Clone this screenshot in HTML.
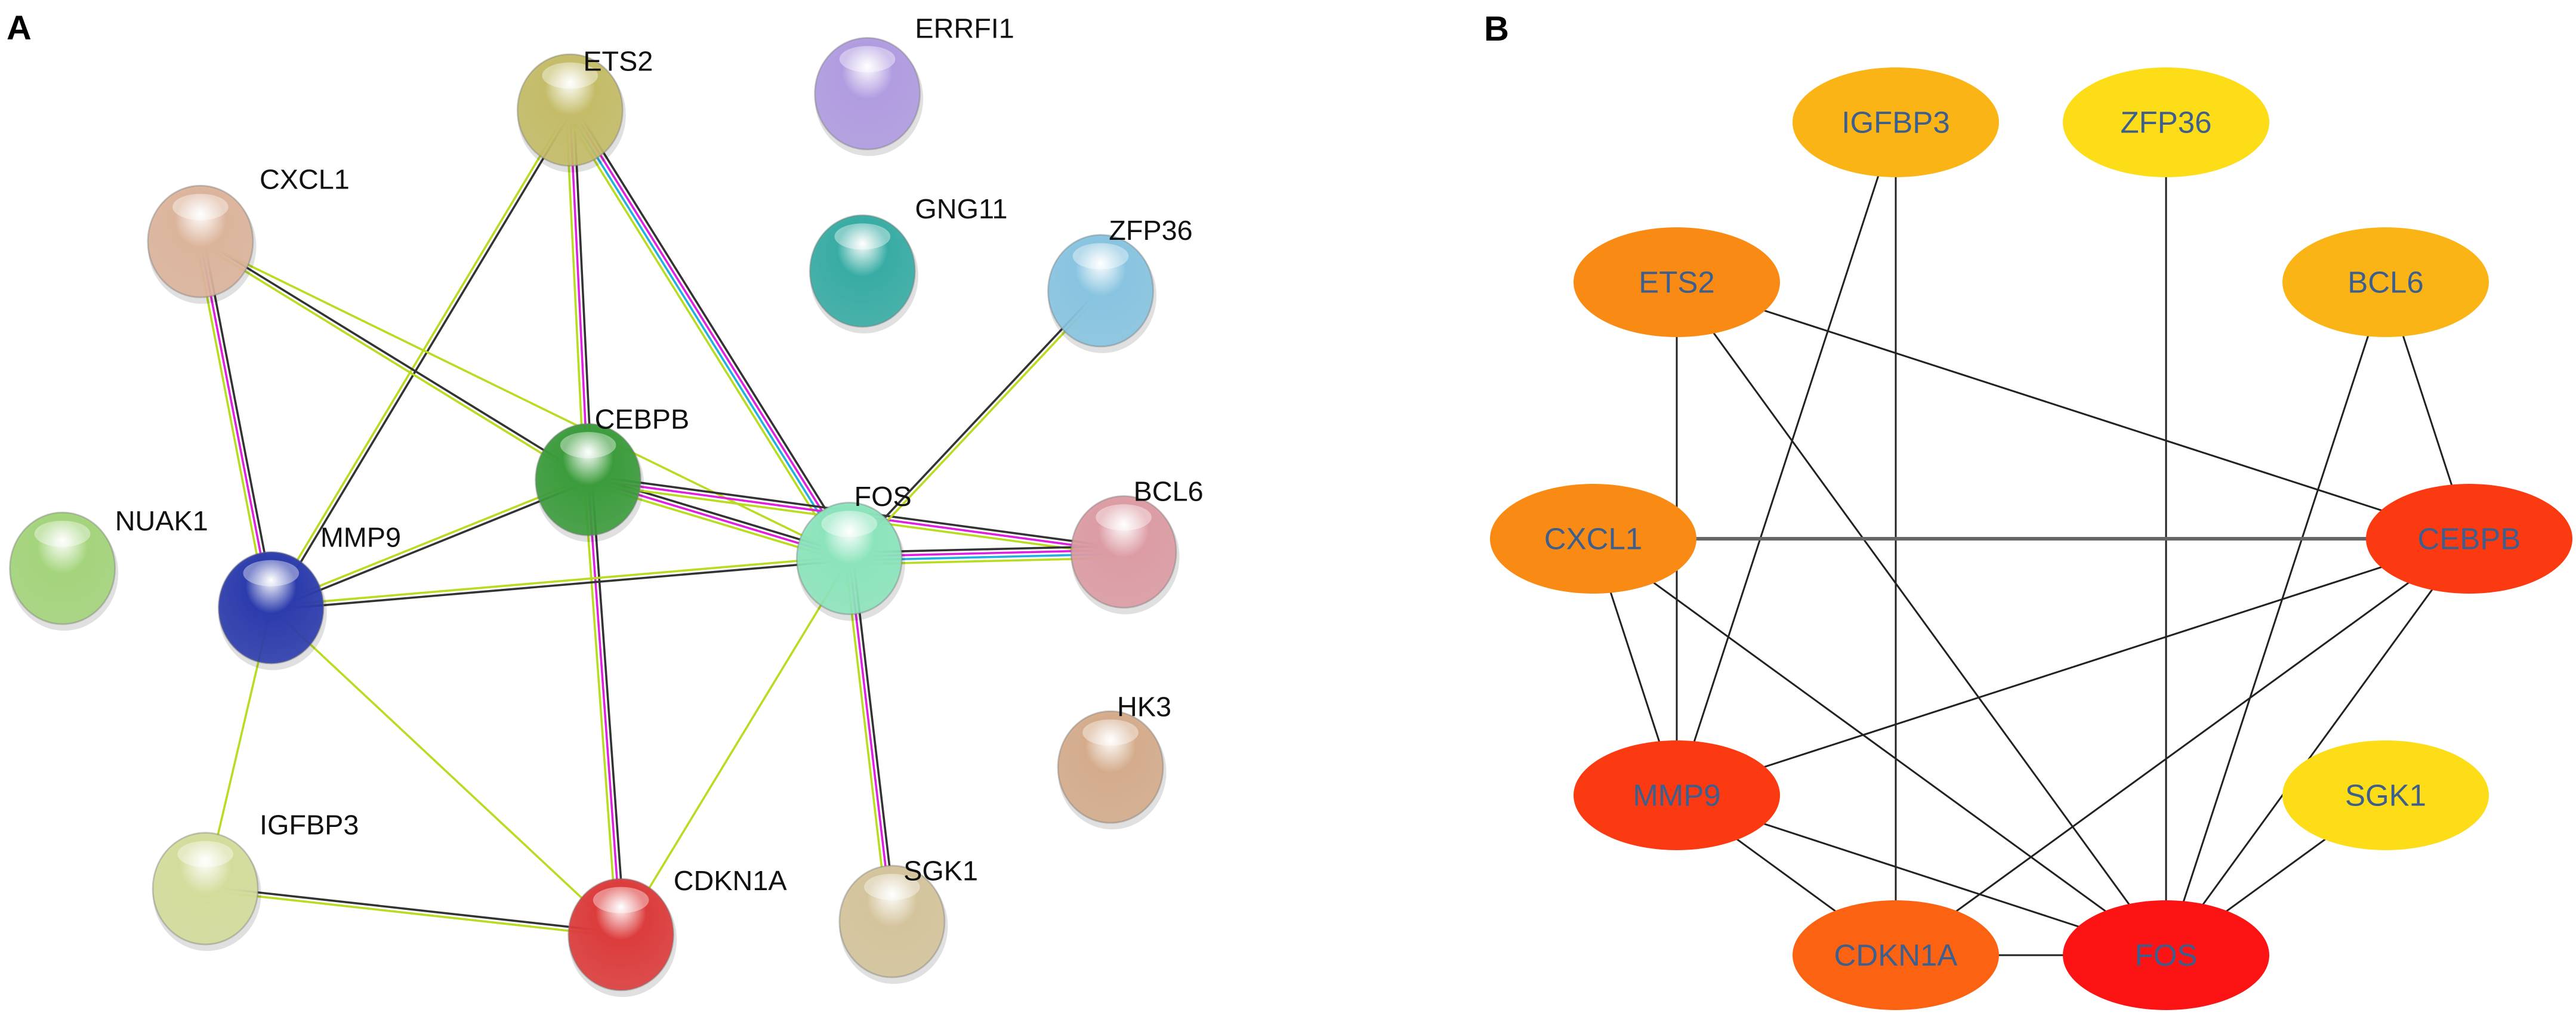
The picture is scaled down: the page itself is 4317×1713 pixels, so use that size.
<!DOCTYPE html>
<html><head><meta charset="utf-8"><style>
html,body{margin:0;padding:0;background:#fff;width:4317px;height:1713px;overflow:hidden}
svg{display:block}
.la{font-family:"Liberation Sans",sans-serif;font-size:17px;fill:#111}
.lb{font-family:"Liberation Sans",sans-serif;font-size:51px;fill:#3d5f8e;text-anchor:middle;dominant-baseline:central}
</style></head><body>
<svg id="s" width="4317" height="1713" viewBox="0 0 4317 1713" xmlns="http://www.w3.org/2000/svg">
<defs id="d"></defs>
<g id="A" transform="scale(2.753)">
<g id="Aedges"></g>
<g id="Anodes"></g>
<text x="4" y="24" style="font-family:'Liberation Sans',sans-serif;font-weight:bold;font-size:21px;fill:#000">A</text>
<text class="la" x="355" y="43">ETS2</text>
<text class="la" x="557" y="23">ERRFI1</text>
<text class="la" x="158" y="115">CXCL1</text>
<text class="la" x="557" y="133">GNG11</text>
<text class="la" x="675" y="146">ZFP36</text>
<text class="la" x="362" y="261">CEBPB</text>
<text class="la" x="520" y="308">FOS</text>
<text class="la" x="690" y="305">BCL6</text>
<text class="la" x="70" y="323">NUAK1</text>
<text class="la" x="195" y="333">MMP9</text>
<text class="la" x="680" y="436">HK3</text>
<text class="la" x="158" y="508">IGFBP3</text>
<text class="la" x="410" y="542">CDKN1A</text>
<text class="la" x="550" y="536">SGK1</text>
</g>
<g id="B">
<g id="Bedges" stroke="#222" stroke-width="3"></g>
<g id="Bnodes"></g>
<text x="2487" y="68" style="font-family:'Liberation Sans',sans-serif;font-weight:bold;font-size:58px;fill:#000">B</text>
<text class="lb" x="3177" y="205">IGFBP3</text>
<text class="lb" x="3630" y="205">ZFP36</text>
<text class="lb" x="2810" y="473">ETS2</text>
<text class="lb" x="3998" y="473">BCL6</text>
<text class="lb" x="2670" y="903">CXCL1</text>
<text class="lb" x="4138" y="903">CEBPB</text>
<text class="lb" x="2810" y="1333">MMP9</text>
<text class="lb" x="3998" y="1333">SGK1</text>
<text class="lb" x="3177" y="1601">CDKN1A</text>
<text class="lb" x="3630" y="1601">FOS</text>
</g>
</svg>
<script>
var NS="http://www.w3.org/2000/svg";
function el(t,a,p){var e=document.createElementNS(NS,t);for(var k in a)e.setAttribute(k,a[k]);p.appendChild(e);return e;}
var A={ETS2:[347,67,"#c4bc68"],ERRFI1:[528,57,"#b09ce0"],CXCL1:[122,147,"#dcb49c"],GNG11:[525,165,"#38aca4"],ZFP36:[670,177,"#88c4e0"],CEBPB:[358,292,"#3c9c3c"],FOS:[517,340,"#8ce4bc"],BCL6:[684,336,"#dc9ca4"],NUAK1:[38,346,"#a4d47c"],MMP9:[165,370,"#2c3cac"],HK3:[676,467,"#d4ac8c"],IGFBP3:[125,541,"#d4dc9c"],CDKN1A:[378,569,"#dc3c3c"],SGK1:[543,561,"#d4c49c"]};
var K="#333",M="#e020e0",C="#20b0e0",Y="#b8dc20";
var EA=[["ETS2","CEBPB",[K,M,Y]],["ETS2","FOS",[K,M,C,Y]],["ETS2","MMP9",[K,Y]],["CXCL1","MMP9",[K,M,Y]],["CXCL1","CEBPB",[K,Y]],["CXCL1","FOS",[Y]],["CEBPB","MMP9",[K,Y]],["CEBPB","FOS",[K,M,Y]],["CEBPB","BCL6",[K,M,Y]],["CEBPB","CDKN1A",[K,M,Y]],["FOS","BCL6",[K,M,C,Y]],["FOS","MMP9",[K,Y]],["FOS","ZFP36",[K,Y]],["FOS","SGK1",[K,M,Y]],["FOS","CDKN1A",[Y]],["MMP9","IGFBP3",[Y]],["MMP9","CDKN1A",[Y]],["IGFBP3","CDKN1A",[K,Y]]];
var ge=document.getElementById("Aedges"),gn=document.getElementById("Anodes"),d=document.getElementById("d");
EA.forEach(function(e){var a=A[e[0]],b=A[e[1]],dx=b[0]-a[0],dy=b[1]-a[1],L=Math.hypot(dx,dy),px=-dy/L,py=dx/L,n=e[2].length;
e[2].forEach(function(c,i){var o=(i-(n-1)/2)*2.4;el("line",{x1:a[0]+px*o,y1:a[1]+py*o,x2:b[0]+px*o,y2:b[1]+py*o,stroke:c,"stroke-width":1.3},ge);});});
var i=0;for(var k in A){var n=A[k],id="g"+(i++);
var g=el("radialGradient",{id:id,cx:"0.5",cy:"0.4",r:"0.6",fx:"0.5",fy:"0.25"},d);
el("stop",{offset:"0",  "stop-color":"#ffffff"},g);el("stop",{offset:"0.4","stop-color":n[2]},g);el("stop",{offset:"1","stop-color":n[2],"stop-opacity":"0.9"},g);
el("ellipse",{cx:n[0]+1,cy:n[1]+3,rx:33,ry:35,fill:"#000",opacity:0.12},gn);
el("ellipse",{cx:n[0],cy:n[1],rx:32,ry:34,fill:"url(#"+id+")",stroke:"#777","stroke-opacity":0.4,"stroke-width":1},gn);
el("ellipse",{cx:n[0],cy:n[1]-21,rx:17,ry:8,fill:"#fff",opacity:0.4},gn);}
var B={IGFBP3:[3177,205,"#fbb416"],ZFP36:[3630,205,"#fddd17"],ETS2:[2810,473,"#f98b14"],BCL6:[3998,473,"#fbb416"],CXCL1:[2670,903,"#f98b14"],CEBPB:[4138,903,"#fb3a12"],MMP9:[2810,1333,"#fb3a12"],SGK1:[3998,1333,"#fddd17"],CDKN1A:[3177,1601,"#fb6313"],FOS:[3630,1601,"#fc1313"]};
var EB=[["IGFBP3","CDKN1A"],["IGFBP3","MMP9"],["ZFP36","FOS"],["ETS2","MMP9"],["ETS2","FOS"],["ETS2","CEBPB"],["BCL6","CEBPB"],["BCL6","FOS"],["CXCL1","CEBPB"],["CXCL1","MMP9"],["CXCL1","FOS"],["CEBPB","MMP9"],["CEBPB","CDKN1A"],["CEBPB","FOS"],["SGK1","FOS"],["MMP9","CDKN1A"],["MMP9","FOS"],["CDKN1A","FOS"]];
var be=document.getElementById("Bedges"),bn=document.getElementById("Bnodes");
EB.forEach(function(e){var a=B[e[0]],b=B[e[1]];var at={x1:a[0],y1:a[1],x2:b[0],y2:b[1]};if(e[0]=="CXCL1"&&e[1]=="CEBPB"){at.stroke="#666";at["stroke-width"]=6;}el("line",at,be);});
for(var k in B){var n=B[k];el("ellipse",{cx:n[0],cy:n[1],rx:173,ry:92,fill:n[2]},bn);}
</script>
</body></html>
